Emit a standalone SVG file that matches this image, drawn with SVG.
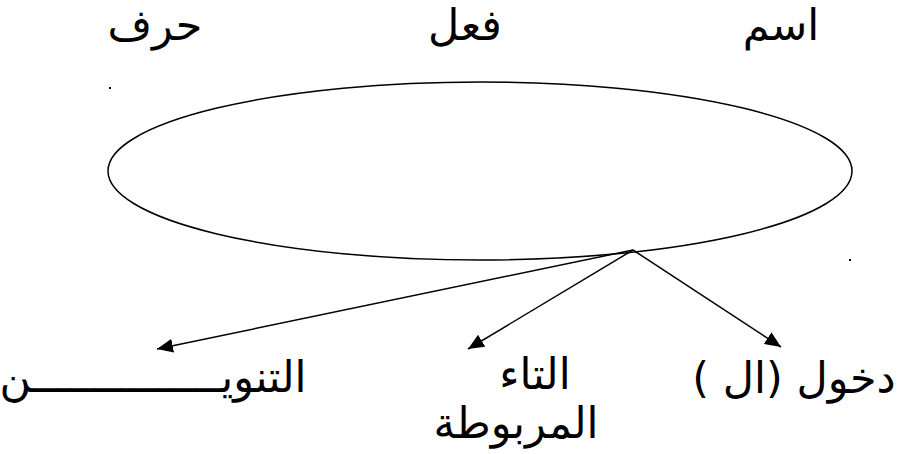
<svg xmlns="http://www.w3.org/2000/svg" width="899" height="454" viewBox="0 0 899 454">
<style>
.t{font-family:"DejaVu Sans",sans-serif;font-size:43px;fill:#000;text-anchor:middle;direction:rtl;unicode-bidi:embed}
.c{stroke:#000;stroke-width:1.5;fill:none}
</style>
<defs>
<marker id="ah" viewBox="0 0 16 14" refX="16" refY="7" markerWidth="16" markerHeight="14" markerUnits="userSpaceOnUse" orient="auto">
<path d="M0,0 L16,7 L0,14 z" fill="#000"/>
</marker>
</defs>
<rect width="899" height="454" fill="#fff"/>
<g id="ism"><text class="t" x="781" y="40">اسم</text></g>
<g id="fiel"><text class="t" x="465" y="40">فعل</text></g>
<g id="harf"><text class="t" x="155" y="40">حرف</text></g>
<g id="dot1"><rect x="109" y="87" width="2" height="2" fill="#000"/></g>
<g id="dot2"><rect x="849" y="259" width="2" height="2" fill="#000"/></g>
<g id="ellipse"><ellipse class="c" cx="480" cy="171" rx="372" ry="89"/></g>
<g id="connectors">
<line class="c" x1="633" y1="250" x2="157" y2="349" marker-end="url(#ah)"/>
<line class="c" x1="633" y1="250" x2="468" y2="349" marker-end="url(#ah)"/>
<line class="c" x1="633" y1="250" x2="781" y2="347" marker-end="url(#ah)"/>
</g>
<g id="dukhool"><text class="t" x="794" y="393">دخول (ال )</text></g>
<g id="taa"><text class="t" x="535" y="389">التاء</text><text class="t" x="516" y="438">المربوطة</text></g>
<g id="tanween"><text class="t" x="153" y="392">التنويـــــــــــــــن</text></g>
</svg>
